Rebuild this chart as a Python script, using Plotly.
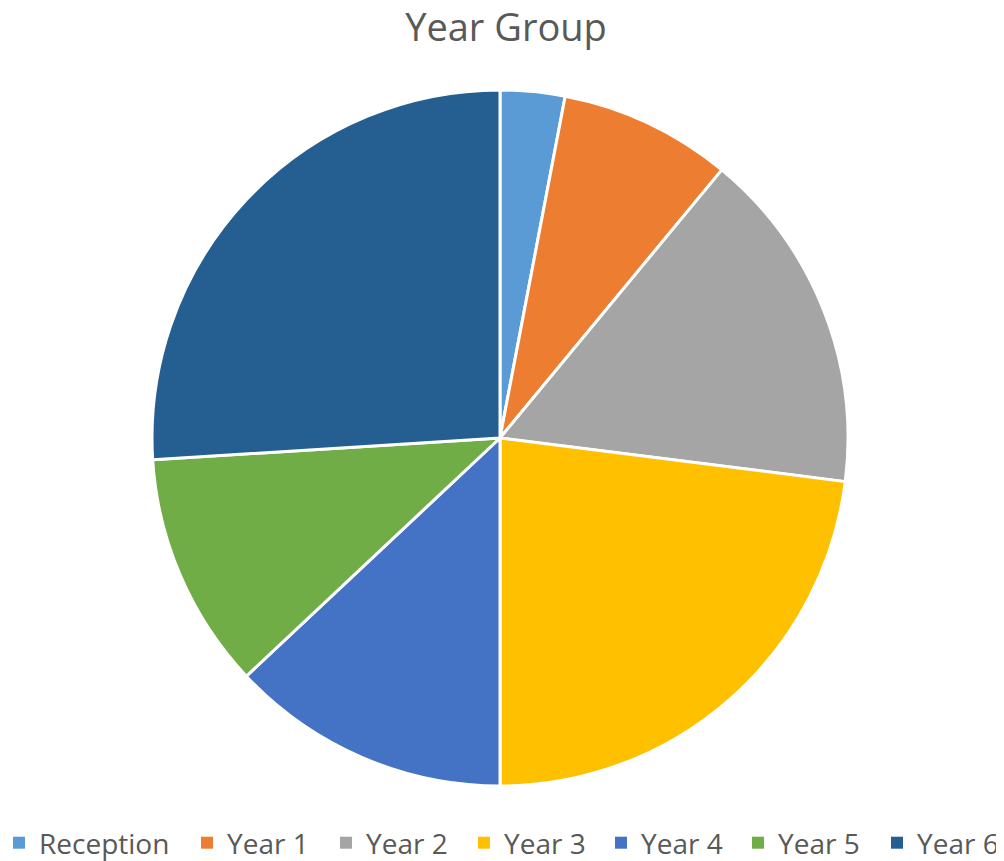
import plotly.graph_objects as go

categories = ["Reception", "Year 1", "Year 2", "Year 3", "Year 4", "Year 5", "Year 6"]
values = [3, 8, 16, 23, 13, 11, 26]
colors = ["#5B9BD5", "#ED7D31", "#A5A5A5", "#FFC000", "#4472C4", "#70AD47", "#255E91"]

# page body has an 8px margin; work in figure pixels
OFF = 8
W, H = 1004 - OFF, 861 - OFF
cx, cy, r = 500 - OFF, 438 - OFF, 348

fig = go.Figure()

# legend entries (one legend per entry so each can be placed like the reference)
legend_text_x = [40, 228, 367, 505, 642, 779, 918]
for i, (lab, val, col) in enumerate(zip(categories, values, colors)):
    name = "legend" if i == 0 else f"legend{i + 1}"
    fig.add_trace(go.Pie(
        labels=[lab], values=[val], sort=False,
        marker=dict(colors=[col], line=dict(width=0)),
        textinfo="none", hoverinfo="skip", showlegend=True, legend=name,
        domain=dict(x=[(cx - 1) / W, (cx + 1) / W], y=[1 - (cy + 1) / H, 1 - (cy - 1) / H]),
    ))

fig.add_trace(go.Pie(
    labels=categories, values=values, sort=False, direction="clockwise", rotation=0,
    marker=dict(colors=colors, line=dict(color="white", width=3)),
    textinfo="none", hoverinfo="label+value+percent", showlegend=False,
    domain=dict(x=[(cx - r) / W, (cx + r) / W], y=[1 - (cy + r) / H, 1 - (cy - r) / H]),
))

legend_common = dict(orientation="h", yanchor="middle", y=1 - (843 - OFF) / H, xanchor="left",
                     font=dict(size=28, color="#595959", family="Open Sans, sans-serif"),
                     itemwidth=30, bgcolor="rgba(0,0,0,0)", borderwidth=0)
layout_legends = {}
for i, tx in enumerate(legend_text_x):
    name = "legend" if i == 0 else f"legend{i + 1}"
    layout_legends[name] = dict(legend_common, x=(tx - OFF - 41) / W)

fig.update_layout(
    width=W, height=H, margin=dict(l=0, r=0, t=0, b=0, autoexpand=False),
    paper_bgcolor="white", plot_bgcolor="white",
    font=dict(family="Open Sans, sans-serif", color="#595959"),
    title=dict(text="Year Group", x=0.5, xanchor="center", y=1 - 6 / H, yanchor="top",
               font=dict(size=38, color="#595959")),
    **layout_legends,
)
fig.write_html("out.html")
